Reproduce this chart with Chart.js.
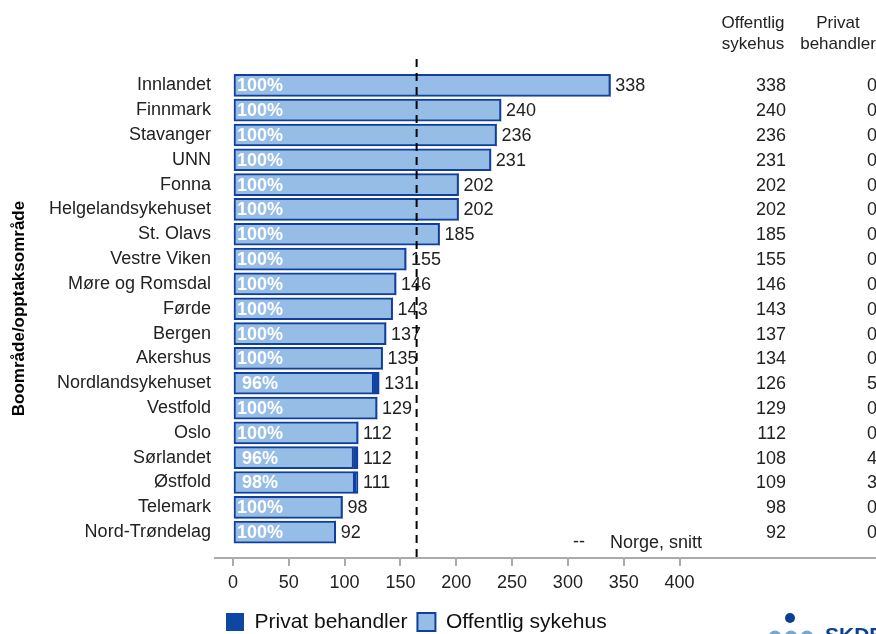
<!DOCTYPE html>
<html><head><meta charset="utf-8">
<script src="https://cdn.jsdelivr.net/npm/chart.js@4.4.1/dist/chart.umd.min.js"></script>
<style>html,body{margin:0;padding:0;background:#fff;overflow:hidden}#wrap{width:876px;height:634px;position:relative}</style>
</head><body><div id="wrap"><canvas id="c"></canvas></div>
<script>
const categories = ['Innlandet','Finnmark','Stavanger','UNN','Fonna','Helgelandsykehuset','St. Olavs','Vestre Viken','Møre og Romsdal','Førde','Bergen','Akershus','Nordlandsykehuset','Vestfold','Oslo','Sørlandet','Østfold','Telemark','Nord-Trøndelag'];
const offentlig = [338,240,236,231,202,202,185,155,146,143,137,134,126,129,112,108,109,98,92];
const privat    = [0,0,0,0,0,0,0,0,0,0,0,0,5,0,0,4,3,0,0];
const totals    = [338,240,236,231,202,202,185,155,146,143,137,135,131,129,112,112,111,98,92];
const shares    = [100,100,100,100,100,100,100,100,100,100,100,100,96,100,100,96,98,100,100];
const norgeSnitt = 164.5;
const xTicks = [0,50,100,150,200,250,300,350,400];
const seriesNames = ['Offentlig sykehus','Privat behandler'];
const tableHeaders = [['Offentlig','sykehus'],['Privat','behandler']];
const yTitle = 'Boområde/opptaksområde';
const snittLabel = 'Norge, snitt';

const LIGHT = '#96BDE6', DARK = '#0B47A3', BORDER = '#103F9F';
const FONT = 'Liberation Sans, Arial, sans-serif';

const overlay = {
  id: 'overlay',
  afterLayout(chart) {
    const lg = chart.legend;
    if (lg) {
      const w = lg.width, h = lg.height;
      lg.left = 216; lg.right = 216 + w;
      lg.top = 601.5; lg.bottom = 601.5 + h;
    }
  },
  afterDatasetsDraw(chart) {
    const {ctx, chartArea, scales: {x, y}} = chart;
    ctx.save();
    ctx.textBaseline = 'middle';
    categories.forEach((c, i) => {
      const yp = y.getPixelForValue(i);
      ctx.font = '18px ' + FONT;
      ctx.fillStyle = '#222';
      ctx.textAlign = 'left';
      ctx.fillText(String(totals[i]), x.getPixelForValue(offentlig[i] + privat[i]) + 5, yp + 1);
      ctx.font = 'bold 18px ' + FONT;
      ctx.fillStyle = '#fff';
      ctx.textAlign = 'center';
      ctx.fillText(shares[i] + '%', x.getPixelForValue(0) + 27, yp + 1);
      ctx.font = '18px ' + FONT;
      ctx.fillStyle = '#222';
      ctx.textAlign = 'right';
      ctx.fillText(String(offentlig[i]), 786, yp + 1);
      ctx.fillText(String(privat[i]), 877, yp + 1);
    });
    // headers
    ctx.font = '17px ' + FONT;
    ctx.textBaseline = 'alphabetic';
    ctx.textAlign = 'center';
    ctx.fillText(tableHeaders[0][0], 753, 28);
    ctx.fillText(tableHeaders[0][1], 753, 49);
    ctx.fillText(tableHeaders[1][0], 838, 28);
    ctx.fillText(tableHeaders[1][1], 838, 49);
    // dashed average line
    const xa = x.getPixelForValue(norgeSnitt);
    ctx.strokeStyle = '#000';
    ctx.lineWidth = 2;
    ctx.setLineDash([8, 6]);
    ctx.beginPath();
    ctx.moveTo(xa, chartArea.top);
    ctx.lineTo(xa, chartArea.bottom);
    ctx.stroke();
    ctx.setLineDash([]);
    // snitt legend
    ctx.font = '18px ' + FONT;
    ctx.textBaseline = 'middle';
    ctx.textAlign = 'left';
    ctx.fillText('--', 573, 542);
    ctx.fillText(snittLabel, 610, 543);
    // logo
    ctx.fillStyle = '#0A3F96';
    ctx.beginPath(); ctx.arc(790, 618, 5, 0, Math.PI * 2); ctx.fill();
    ctx.fillStyle = '#6FA8DC';
    [775, 791, 807].forEach(cx => { ctx.beginPath(); ctx.arc(cx, 637, 6.5, 0, Math.PI * 2); ctx.fill(); });
    ctx.fillStyle = '#0A3F96';
    ctx.font = 'bold 21px ' + FONT;
    ctx.textBaseline = 'alphabetic';
    ctx.fillText('SKDE', 825, 642);
    ctx.restore();
  }
};

const chart = new Chart(document.getElementById('c'), {
  type: 'bar',
  data: {
    datasets: [
      {
        label: seriesNames[0],
        data: categories.map((c, i) => ({x: offentlig[i], y: i})),
        backgroundColor: LIGHT,
        borderColor: BORDER,
        borderWidth: 2,
        borderSkipped: false,
        grouped: false,
        barThickness: 22
      },
      {
        label: seriesNames[1],
        data: categories.map((c, i) => ({x: privat[i], y: i})),
        backgroundColor: DARK,
        borderColor: BORDER,
        borderWidth: ctx => (ctx.raw && ctx.raw.x > 0) ? 2 : 0,
        borderSkipped: false,
        grouped: false,
        barThickness: 22
      }
    ]
  },
  options: {
    indexAxis: 'y',
    responsive: true,
    maintainAspectRatio: false,
    animation: false,
    events: [],
    layout: {padding: {top: 59, right: 0, bottom: 0, left: 0}},
    scales: {
      x: {
        type: 'linear',
        stacked: true,
        min: -16.1,
        max: 576,
        afterBuildTicks: s => { s.ticks = xTicks.map(v => ({value: v})); },
        afterFit: s => { s.height = 35; },
        ticks: {font: {size: 18, family: FONT}, color: '#222', padding: 6, autoSkip: false, maxRotation: 0},
        grid: {display: true, drawOnChartArea: false, drawTicks: true, tickLength: 8, color: '#a9acaf', lineWidth: 2},
        border: {display: true, color: '#a9acaf', width: 2}
      },
      y: {
        type: 'linear',
        reverse: true,
        offset: false,
        min: -1.06,
        max: 19.04,
        afterBuildTicks: s => { s.ticks = categories.map((c, i) => ({value: i})); },
        afterFit: s => { s.width = 215; },
        ticks: {callback: v => categories[v] ?? '', font: {size: 18, family: FONT}, color: '#222', padding: 4, autoSkip: false},
        grid: {display: false, drawTicks: false},
        border: {display: false},
        title: {display: true, text: yTitle, font: {size: 17, weight: 'bold', family: FONT}, color: '#000', padding: {top: 9, bottom: 0}}
      }
    },
    plugins: {
      tooltip: {enabled: false},
      legend: {
        position: 'bottom',
        align: 'start',
        reverse: true,
        labels: {boxWidth: 18, boxHeight: 18, padding: 10, font: {size: 21, family: FONT}, color: '#111'}
      }
    }
  },
  plugins: [overlay]
});
</script>
</body></html>
